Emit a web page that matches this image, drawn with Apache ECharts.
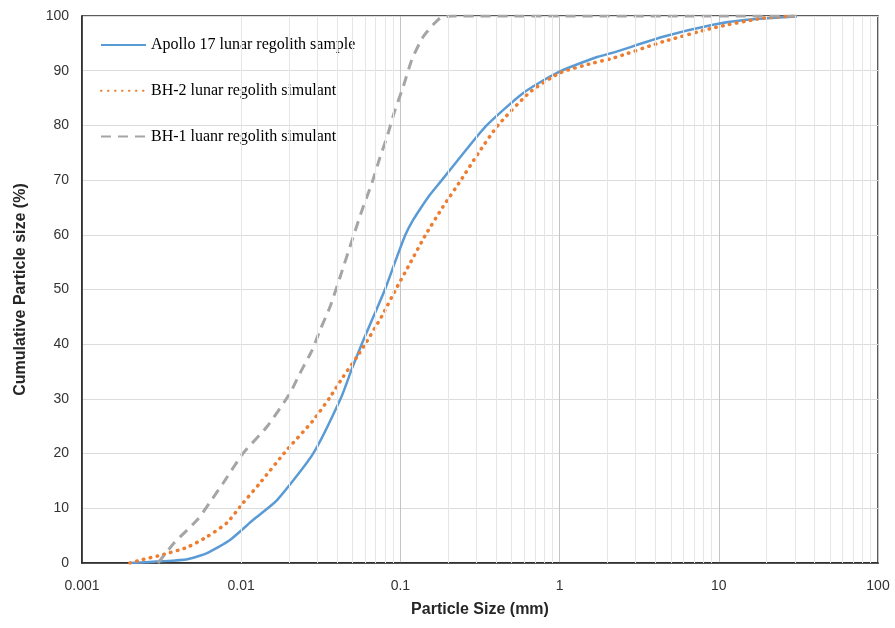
<!DOCTYPE html>
<html>
<head>
<meta charset="UTF-8">
<title>Particle size distribution</title>
<style>
  html, body { margin: 0; padding: 0; background: #fff; }
  #main { width: 895px; height: 628px; }
</style>
</head>
<body>
<div id="main"></div>
<script src="https://cdn.jsdelivr.net/npm/echarts@6/dist/echarts.min.js"></script>
<script>
// Apollo 17 lunar regolith sample  [size mm, cumulative %]
var apolloData = [
  [0.002, 0], [0.0031, 0.3], [0.0046, 0.7], [0.0061, 1.8], [0.0085, 4.2],
  [0.0119, 7.9], [0.0168, 11.5], [0.0283, 20], [0.0425, 30.3], [0.050, 35.8],
  [0.0571, 40], [0.0676, 45], [0.080, 50], [0.0925, 55], [0.1075, 60],
  [0.119, 62.5], [0.135, 65], [0.155, 67.5], [0.182, 70], [0.25, 75],
  [0.348, 80], [0.589, 85.9], [0.963, 89.6],
  [1.72, 92.5], [2.17, 93.3], [4.46, 96.2], [9.2, 98.4], [15, 99.3], [31, 99.9]
];
// BH-2 lunar regolith simulant
var bh2Data = [
  [0.002, 0], [0.0023, 0.5], [0.0032, 1.5], [0.0046, 2.9], [0.0061, 4.8],
  [0.0081, 7.3], [0.0103, 11], [0.0131, 14.6], [0.0194, 20.7], [0.0282, 26],
  [0.0361, 30.3], [0.0436, 34], [0.0534, 37.7], [0.060, 40], [0.076, 45],
  [0.0935, 50], [0.116, 55], [0.144, 60], [0.184, 65], [0.240, 70],
  [0.31, 75], [0.41, 80], [0.652, 86.1], [1.006, 89.6], [1.62, 91.4],
  [2.17, 92.3], [4.46, 95.3], [9.2, 97.8], [18.9, 99.6], [31, 100]
];
// BH-1 luanr regolith simulant
var bh1Data = [
  [0.003, 0], [0.0038, 3.7], [0.0053, 7.9], [0.0064, 11.2], [0.0077, 14.6],
  [0.0103, 20.1], [0.0145, 24.9], [0.0203, 31.1], [0.0234, 34.7], [0.0279, 38.9],
  [0.0313, 42.6], [0.0361, 46.8], [0.0418, 52.3], [0.0497, 59], [0.0574, 64.5],
  [0.0663, 69.5], [0.0745, 74.2], [0.0824, 77.9], [0.0925, 82.8], [0.104, 87],
  [0.118, 92], [0.139, 96.2], [0.177, 99.6], [0.21, 100], [31, 100]
];

var seriesNames = ['Apollo 17 lunar regolith sample', 'BH-2 lunar regolith simulant', 'BH-1 luanr regolith simulant'];
var xTicks = [0.001, 0.01, 0.1, 1, 10, 100];

// minor vertical grid lines at 2..9 of each decade
var minorGrid = [];
for (var d = 0; d < xTicks.length - 1; d++) {
  for (var k = 2; k <= 9; k++) {
    minorGrid.push({ xAxis: +(xTicks[d] * k).toPrecision(3) });
  }
}

var myChart = echarts.init(document.getElementById('main'));
var option = {
  backgroundColor: '#fff',
  animation: false,
  grid: {
    left: 82, right: 17, top: 16, bottom: 65,
    show: true, borderColor: '#262626', borderWidth: 1.5, backgroundColor: '#fff'
  },
  legend: {
    orient: 'vertical',
    left: 95,
    top: 32,
    itemWidth: 45,
    itemHeight: 14,
    itemGap: 29.8,
    data: seriesNames,
    itemStyle: { opacity: 0 },
    textStyle: { fontFamily: 'Liberation Serif', fontSize: 16, color: '#000' }
  },
  xAxis: {
    type: 'log',
    logBase: 10,
    min: 0.001,
    max: 100,
    name: 'Particle Size (mm)',
    nameLocation: 'middle',
    nameGap: 39,
    nameTextStyle: { fontFamily: 'Liberation Sans', fontSize: 16, fontWeight: 'bold', color: '#262626' },
    axisLine: { show: true, lineStyle: { color: '#262626', width: 1.5 } },
    axisTick: { show: false },
    axisLabel: {
      margin: 16,
      fontFamily: 'Liberation Sans', fontSize: 14, color: '#333',
      formatter: function (v) { return String(+(+v).toPrecision(1)); }
    },
    splitLine: { show: true, lineStyle: { color: '#c4c4c4', width: 1 } }
  },
  yAxis: {
    type: 'value',
    min: 0,
    max: 100,
    interval: 10,
    name: 'Cumulative Particle size (%)',
    nameLocation: 'middle',
    nameGap: 53,
    nameTextStyle: { fontFamily: 'Liberation Sans', fontSize: 16, fontWeight: 'bold', color: '#262626' },
    axisLine: { show: true, lineStyle: { color: '#262626', width: 1.5 } },
    axisTick: { show: false },
    axisLabel: { margin: 13, fontFamily: 'Liberation Sans', fontSize: 14, color: '#333' },
    splitLine: { show: true, lineStyle: { color: '#dcdcdc', width: 1 } }
  },
  series: [
    {
      name: 'minor',
      type: 'line',
      data: [],
      z: 1,
      silent: true,
      markLine: {
        silent: true,
        symbol: ['none', 'none'],
        label: { show: false },
        lineStyle: { color: '#e6e6e6', width: 1, type: 'solid' },
        data: minorGrid
      }
    },
    {
      name: seriesNames[0],
      type: 'line',
      data: apolloData,
      symbol: 'none',
      smooth: 0.2,
      z: 3,
      color: '#5B9BD5',
      lineStyle: { color: '#5B9BD5', width: 2.5 }
    },
    {
      name: seriesNames[1],
      type: 'line',
      data: bh2Data,
      symbol: 'none',
      smooth: 0.2,
      z: 3,
      color: '#ED7D31',
      lineStyle: { color: '#ED7D31', width: 3.5, type: [0.5, 6.5], cap: 'round' }
    },
    {
      name: seriesNames[2],
      type: 'line',
      data: bh1Data,
      symbol: 'none',
      smooth: 0.2,
      z: 3,
      color: '#A5A5A5',
      lineStyle: { color: '#A5A5A5', width: 3, type: [10, 7] }
    }
  ]
};
myChart.setOption(option);
</script>
</body>
</html>
